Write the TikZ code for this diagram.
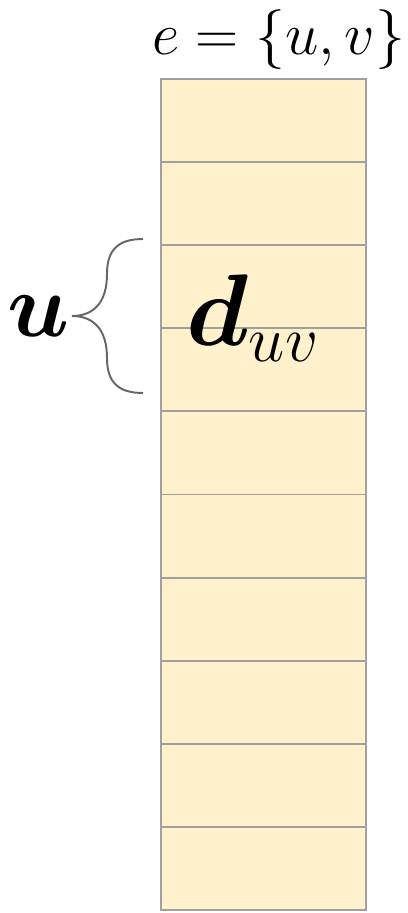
\RequirePackage{fix-cm}
\documentclass[tikz,border=0pt]{standalone}
\usepackage{amsmath,bm}
\usetikzlibrary{positioning}
\definecolor{cellfill}{HTML}{FFF1CC}
\definecolor{cellline}{HTML}{A0A0A0}
\definecolor{bracecol}{HTML}{666666}
\begin{document}
\begin{tikzpicture}[x=0.02cm,y=-0.02cm,
    cell/.style={draw=cellline,fill=cellfill,line width=1.1pt,minimum width=4.1cm,minimum height=1.662cm,inner sep=0pt}]
        \useasboundingbox (0,0) rectangle (408,913);
        \foreach \i in {0,...,9}
            \node[cell] (c\i) at (263.5,{79+83.1*(\i+0.5)}) {};
        \node[inner sep=0pt] (edge) at (278.5,40) {\fontsize{34}{40}\selectfont $e=\{u,v\}$};
        \node (duv) at (253,318) {\fontsize{58}{64}\selectfont $\bm{d}_{\text{\fontsize{37}{40}\selectfont $uv$}}$};
        \coordinate (tip) at (72,316);
        \draw [bracecol,line width=1.1pt] (143,239) .. controls (118,239) and (107,250) .. (107,274)
            .. controls (107,302) and (94,316) .. (tip)
            .. controls (94,316) and (107,330) .. (107,358)
            .. controls (107,382) and (118,393) .. (143,393);
        \node [left=-2pt of tip] (u) {\fontsize{52}{60}\selectfont $\bm{u}$};
    \end{tikzpicture}
\end{document}
